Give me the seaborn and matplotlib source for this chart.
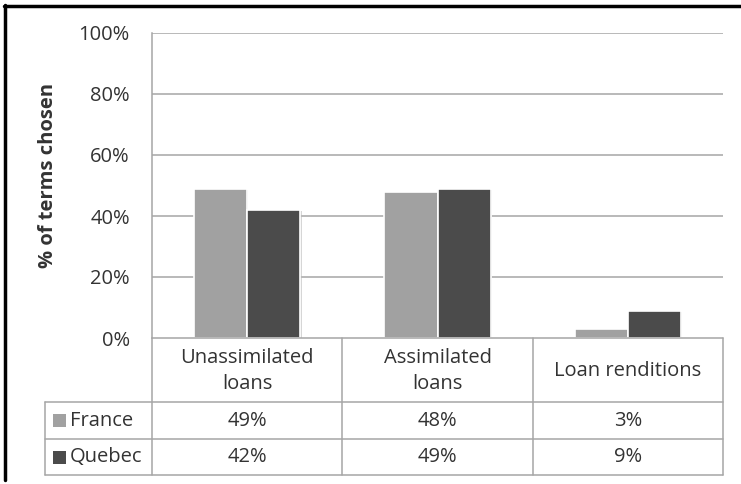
import matplotlib
matplotlib.use("Agg")
import matplotlib.pyplot as plt
from matplotlib.lines import Line2D
from matplotlib.patches import Rectangle
import matplotlib.patheffects as pe
import seaborn as sns
import pandas as pd

# Data
categories = ["Unassimilated\nloans", "Assimilated\nloans", "Loan renditions"]
series_names = ["France", "Quebec"]
france = [49, 48, 3]
quebec = [42, 49, 9]
y_ticks = [0, 20, 40, 60, 80, 100]
y_label = "% of terms chosen"

colors = {"France": "#a1a1a1", "Quebec": "#4b4b4b"}
grid_color = "#a6a6a6"
text_color = "#333333"
fs = 14.5

df = pd.DataFrame({
    "category": categories * 2,
    "series": ["France"] * 3 + ["Quebec"] * 3,
    "value": france + quebec,
})

sns.set_style("white")
plt.rcParams["font.family"] = ["Open Sans", "DejaVu Sans"]

W, H = 741, 484
fig = plt.figure(figsize=(W / 100, H / 100), dpi=100)


def fx(px):
    return px / W


def fy(py):
    return 1 - py / H


# plot area in pixel terms
left, right, top, bottom = 152, 723, 33, 338
ax = fig.add_axes([fx(left), fy(bottom), fx(right) - fx(left), fy(top) - fy(bottom)])

sns.barplot(data=df, x="category", y="value", hue="series", order=categories,
            hue_order=series_names, palette=colors, width=0.56, dodge=True,
            edgecolor="white", linewidth=1.2, legend=False, ax=ax, zorder=3)
for bar in ax.patches:
    bar.set_path_effects([pe.SimplePatchShadow(offset=(0.8, -0.8), shadow_rgbFace="#bbbbbb",
                                               alpha=0.6), pe.Normal()])

ax.set_xlim(-0.5, len(categories) - 0.5)
ax.set_ylim(0, 100)
ax.set_yticks(y_ticks)
ax.set_yticklabels([f"{t}%" for t in y_ticks], fontsize=fs, color=text_color)
ax.tick_params(axis="y", length=0, pad=16)
ax.set_xticks([])
ax.set_xlabel("")
ax.set_ylabel("")
for t in y_ticks[1:]:
    ax.axhline(t, color=grid_color, lw=1.1, zorder=1)
for side in ["top", "right", "bottom"]:
    ax.spines[side].set_visible(False)
ax.spines["left"].set_color(grid_color)
ax.spines["left"].set_linewidth(1.1)

fig.text(fx(48), fy(175), y_label, rotation=90, ha="center", va="center",
         fontsize=14.5, fontweight="bold", color=text_color)

# data table under the plot
row_y = [338, 402, 439, 475]
col_x = [152, 342, 533, 723]
label_left = 45


def hline(x0, x1, y):
    fig.add_artist(Line2D([fx(x0), fx(x1)], [fy(y), fy(y)], color=grid_color, lw=1.1))


def vline(x, y0, y1):
    fig.add_artist(Line2D([fx(x), fx(x)], [fy(y0), fy(y1)], color=grid_color, lw=1.1))


hline(left, right, row_y[0])
for y in row_y[1:]:
    hline(label_left, right, y)
for x in col_x:
    vline(x, row_y[0], row_y[3])
vline(label_left, row_y[1], row_y[3])

for i, cat in enumerate(categories):
    cx = (col_x[i] + col_x[i + 1]) / 2
    fig.text(fx(cx), fy((row_y[0] + row_y[1]) / 2 + 1), cat, ha="center", va="center",
             fontsize=fs, color=text_color, linespacing=1.35)
    for r, vals in enumerate([france, quebec]):
        cy = (row_y[r + 1] + row_y[r + 2]) / 2
        fig.text(fx(cx), fy(cy), f"{vals[i]}%", ha="center", va="center",
                 fontsize=fs, color=text_color)

for r, name in enumerate(series_names):
    cy = (row_y[r + 1] + row_y[r + 2]) / 2
    fig.add_artist(Rectangle((fx(53), fy(cy + 6.5)), fx(13), fy(0) - fy(13),
                             facecolor=colors[name], edgecolor="none"))
    fig.text(fx(70), fy(cy), name, ha="left", va="center", fontsize=fs, color=text_color)

# outer frame (top and left edges)
fig.add_artist(Line2D([fx(4), fx(W)], [fy(5.5), fy(5.5)], color="black", lw=2.5))
fig.add_artist(Line2D([fx(5), fx(5)], [fy(5), fy(480)], color="black", lw=2.5))

fig.savefig("out.png", dpi=100, facecolor="white")
